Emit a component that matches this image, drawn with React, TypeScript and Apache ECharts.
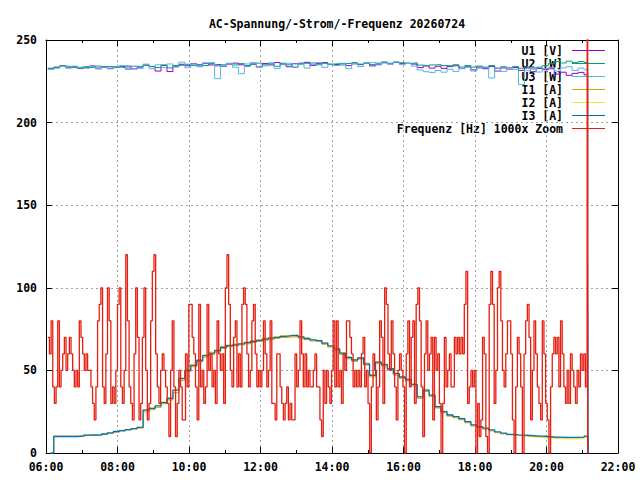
import React, { useEffect, useRef } from "react";
import * as echarts from "echarts";

// ---------- data ----------
const TITLE = "AC-Spannung/-Strom/-Frequenz 20260724";
const SERIES_NAMES = ["U1 [V]", "U2 [W]", "U3 [W]", "I1 [A]", "I2 [A]", "I3 [A]", "Frequenz [Hz] 1000x Zoom"];
const SERIES_COLORS = ["#9400d3", "#009e73", "#56b4e9", "#e69f00", "#f0e442", "#0072b2", "#e51e10"];
const SERIES_WIDTHS = [1, 1, 1, 1, 1, 1.3, 1.3];
const X_TICKS = ["06:00", "08:00", "10:00", "12:00", "14:00", "16:00", "18:00", "20:00", "22:00"];
const Y_TICKS = [0, 50, 100, 150, 200, 250];

const END_TIME = "21:09";

// voltages, every 10 minutes from 06:03
const U_START = "06:03";
const U_STEP_MIN = 10;
const U_DROP = 117;
const U1 = [
  232.6, 233.4, 234.4, 233.2, 233.8, 232.7,
  233.5, 234.3, 233.0, 233.9, 232.9, 233.8,
  233.4, 234.2, 232.5, 233.6, 234.9, 233.9,
  231.2, 234.6, 230.9, 234.1, 235.3, 234.4,
  235.6, 234.3, 235.9, 234.9, 235.2, 234.1,
  235.4, 236.0, 235.0, 234.2, 235.5, 233.6,
  235.8, 234.9, 236.4, 235.3, 233.8, 235.6,
  235.9, 236.5, 234.6, 235.7, 236.3, 235.1,
  235.2, 235.8, 234.5, 235.6, 235.1, 236.1,
  234.3, 235.3, 236.2, 235.5, 236.4, 235.7,
  236.0, 235.4, 233.3, 234.3, 233.0, 234.1,
  232.8, 233.9, 234.4, 232.7, 233.8, 231.9,
  233.6, 232.6, 233.9, 231.2, 233.1, 232.4,
  233.3, 231.6, 233.0, 230.8, 232.8, 232.0,
  232.6, 229.4, 230.5, 228.6, 229.8, 230.4, 228.9,
];
const U2 = [
  232.9, 233.6, 234.3, 233.9, 233.3, 233.7,
  233.9, 233.4, 234.2, 233.4, 233.9, 233.3,
  233.9, 233.0, 234.1, 233.8, 234.7, 234.0,
  233.3, 234.9, 233.1, 234.6, 234.8, 235.3,
  234.5, 235.2, 234.6, 235.7, 234.3, 235.0,
  235.8, 234.9, 235.7, 234.5, 235.3, 236.0,
  235.0, 235.6, 234.1, 235.9, 235.0, 233.5,
  235.4, 235.9, 236.2, 235.0, 235.9, 235.4,
  235.7, 234.9, 235.8, 236.3, 235.4, 235.9,
  235.1, 236.0, 236.6, 235.9, 236.7, 236.2,
  235.8, 236.2, 234.8, 234.4, 234.9, 235.1,
  234.5, 234.3, 235.0, 233.6, 234.5, 233.6,
  234.2, 233.4, 234.5, 232.8, 233.8, 233.3,
  233.9, 232.9, 233.7, 232.5, 233.5, 234.4,
  235.8, 236.9, 236.1, 237.2, 236.3, 237.0, 236.4,
];
const U3 = [
  232.2, 232.9, 234.1, 233.0, 234.2, 233.1,
  232.7, 233.9, 232.4, 233.7, 232.5, 233.8,
  234.6, 232.1, 234.0, 232.8, 235.4, 232.6,
  235.0, 233.3, 235.5, 233.6, 236.6, 233.2,
  235.3, 233.8, 236.2, 236.4, 226.6, 234.4,
  235.9, 233.5, 229.6, 235.5, 236.3, 233.8,
  234.3, 236.2, 232.8, 235.0, 235.9, 233.6,
  236.1, 233.0, 235.1, 236.3, 233.4, 235.4,
  234.6, 235.9, 232.6, 235.6, 233.9, 236.1,
  236.4, 234.9, 236.8, 235.4, 236.6, 235.1,
  235.8, 234.2, 231.9, 230.8, 230.3, 231.6,
  230.5, 232.3, 231.0, 232.7, 233.5, 231.2,
  232.9, 233.6, 227.0, 233.1, 230.9, 233.4,
  232.2, 223.0, 231.4, 233.3, 230.6, 232.7,
  233.4, 231.2, 233.1, 233.8, 231.5, 233.0, 232.0,
];

// currents, every 10 minutes from 06:13 (zero before)
const I_ZERO_TIME = "06:08";
const I_START = "06:13";
const I_STEP_MIN = 10;
const I1 = [
  10.2, 10.2, 10.2, 10.1, 10.2, 10.5, 10.7, 10.6, 11.2, 11.9,
  12.6, 13.3, 13.9, 14.5, 15.1, 24.8, 26.2, 27.6, 29.8, 32.1,
  36.5, 43.8, 49.1, 52.2, 55.1, 58.0, 59.6, 61.1, 63.2, 64.3,
  64.9, 65.4, 66.1, 66.9, 67.5, 68.3, 68.8, 69.4, 69.9, 70.2,
  70.4, 69.5, 68.6, 67.8, 67.4, 65.8, 64.1, 62.2, 59.6, 57.0,
  55.4, 56.8, 53.2, 46.0, 54.1, 52.6, 50.2, 47.1, 45.2, 43.6,
  40.6, 33.1, 37.2, 34.1, 27.2, 24.3, 22.3, 21.3, 20.1, 18.3,
  16.3, 15.4, 14.4, 13.4, 12.3, 11.6, 11.0, 10.6, 10.4, 10.2,
  10.0, 9.8, 9.6, 9.4, 9.3, 9.2, 9.2, 9.1, 9.3, 9.8,
];
const I2 = [
  10.0, 10.0, 10.1, 10.1, 10.4, 11.0, 10.9, 10.6, 11.4, 12.1,
  13.0, 13.7, 14.3, 14.9, 15.6, 26.3, 27.3, 28.9, 31.0, 33.6,
  38.7, 45.6, 50.7, 53.8, 56.7, 59.6, 61.2, 62.7, 64.7, 65.6,
  66.1, 66.6, 67.4, 68.1, 68.8, 69.6, 70.1, 70.6, 71.1, 71.5,
  71.6, 70.6, 69.6, 68.8, 68.3, 66.8, 65.1, 63.3, 60.9, 58.2,
  56.7, 57.9, 54.4, 47.5, 55.4, 53.9, 51.3, 48.4, 46.3, 44.8,
  41.8, 34.4, 38.3, 35.3, 28.3, 25.3, 23.2, 22.2, 21.0, 19.2,
  17.1, 16.0, 14.9, 13.8, 12.5, 11.8, 11.1, 10.7, 10.3, 9.9,
  9.6, 9.3, 9.0, 8.8, 8.7, 8.6, 8.6, 8.5, 8.7, 9.5,
];
const I3 = [
  10.0, 10.0, 10.0, 10.0, 10.3, 10.8, 11.0, 10.8, 11.5, 12.2,
  13.0, 13.6, 14.2, 14.8, 15.5, 26.0, 27.0, 28.5, 30.5, 33.0,
  38.0, 45.0, 50.0, 53.0, 56.0, 59.0, 60.5, 62.0, 64.0, 65.0,
  65.5, 66.0, 66.8, 67.5, 68.2, 69.0, 69.5, 70.0, 70.6, 71.0,
  71.2, 70.3, 69.3, 68.5, 68.0, 66.5, 64.8, 63.0, 60.5, 57.8,
  56.3, 57.5, 54.0, 47.0, 55.0, 53.5, 51.0, 48.0, 46.0, 44.5,
  41.5, 34.0, 38.0, 35.0, 28.0, 25.0, 23.0, 22.0, 20.8, 19.0,
  17.0, 16.0, 15.0, 14.0, 12.8, 12.0, 11.3, 11.0, 10.8, 10.6,
  10.4, 10.2, 10.0, 9.7, 9.6, 9.5, 9.5, 9.4, 9.6, 10.2,
];

// frequency deviation (1000x zoom), sampled regularly from 06:03
const FREQ_START = "06:03";
const FREQ_STEP_MIN = 2.785;
const FREQ_END_VALUES = [999, -999];
const FREQ = [
  70, 60, 80, 40, 30, 40, 80, 40, 50, 60, 70, 50, 60, 70, 60, 50, 40, 50, 40, 80,
  70, 60, 50, 60, 50, 50, 40, 30, 20, 40, 80, 90, 100, 40, 30, 60, 100, 80, 30, 40,
  30, 50, 90, 100, 40, 30, 50, 120, 80, 40, 30, 20, 60, 100, 70, 20, 30, 70, 100, 50,
  20, 30, 80, 110, 120, 60, 40, 30, 50, 60, 50, 40, 30, 10, 50, 80, 40, 10, 30, 50,
  40, 20,
  20, 60, 40, 90, 90, 70, 60, 40, 20, 90, 40, 50, 30, 40, 90, 50, 60, 40, 50, 30,
  80, 60, 50, 60, 30, 100, 120, 90, 50, 40, 70, 80, 40, 60, 40, 90, 100, 90, 60, 40,
  50, 80, 90, 60, 40, 50, 40, 50, 80, 60, 40, 50, 80, 30, 30, 20, 60, 60, 40, 30,
  20, 30, 40, 20, 30, 20, 20, 60, 40, 50, 80, 60, 40, 60, 40, 50, 40, 40, 50, 60,
  40,
  40, 20, 10, 50, 30, 50, 40, 30, 50, 80, 40, 80, 40, 50, 30, 60, 50, 80, 80, 70,
  60, 40, 50, 40, 50, 40, 60, 70, 40, 50, 30, 0, 40, 60, 50, 20, 40, 80, 70, 30,
  100, 90, 60, 50, 80, 60, 40, 20, 50, 60, 50, 40, 0, 60, 80, 40, 70, 80, 30, 90,
  100, 80, 40, 10, 60, 80, 50, 60, 70, 20, 70, 50, 60, 30, 0, 30, 70, 40, 50, 60,
  40,
  40, 70, 60, 70, 60, 70, 60, 90, 110, 30, 40, 50, 40, 50, 0, 30, 10, 20, 70, 60,
  10, 0, 90, 110, 90, 30, 50, 100, 110, 80, 50, 40, 60, 80, 80, 60, 20, 0, 40, 70,
  60, 40, 0, 60, 80, 90, 70, 20, 50, 80, 60, 40, 30, 20, 80, 60, 30, 20, 0, 40,
  60, 70, 60, 70, 40, 80, 60, 40, 30, 50, 30, 60, 50, 40, 30, 50, 40, 60, 50, 60,
  40, 50,
];

// ---------- helpers ----------
const toMin = (s: string) => {
  const [h, m] = s.split(":").map(Number);
  return h * 60 + m;
};
const fmt = (v: number) =>
  `${String(Math.floor(v / 60)).padStart(2, "0")}:${String(Math.round(v % 60)).padStart(2, "0")}`;

const FONT = "DejaVu Sans Mono";

export default function App() {
  const ref = useRef<HTMLDivElement>(null);
  useEffect(() => {
    if (!ref.current) return;
    const chart = echarts.init(ref.current, undefined, { renderer: "svg" });
    const end = toMin(END_TIME);

    const uData = (arr: number[]) =>
      arr
        .map((v, i) => [toMin(U_START) + i * U_STEP_MIN, v])
        .concat([[end, U_DROP], [end + 1, 0]]);
    const iData = (arr: number[]) =>
      [[toMin(I_ZERO_TIME), 0]]
        .concat(arr.map((v, i) => [toMin(I_START) + i * I_STEP_MIN, v]))
        .concat([[end + 1, 0]]);
    const fData = FREQ.map((v, i) => [toMin(FREQ_START) + i * FREQ_STEP_MIN, v]).concat([
      [end, FREQ_END_VALUES[0]],
      [end + 0.3, FREQ_END_VALUES[1]],
    ]);

    const allData = [uData(U1), uData(U2), uData(U3), iData(I1), iData(I2), iData(I3), fData];

    const xMin = toMin(X_TICKS[0]);
    const xMax = toMin(X_TICKS[X_TICKS.length - 1]);
    const yMin = Y_TICKS[0];
    const yMax = Y_TICKS[Y_TICKS.length - 1];

    const labelStyle = { fontFamily: FONT, fontSize: 11.5, fontWeight: "bold" as const, color: "#000" };
    const axisLine = { show: true, onZero: false, lineStyle: { color: "#000", width: 1 } };
    const splitLine = { show: true, lineStyle: { color: "#a0a0a0", type: [2, 3] as any, width: 1 } };

    const legendRowY = 50.5;
    const legendRowH = 13;
    const graphics: any[] = [];
    SERIES_NAMES.forEach((name, i) => {
      const y = legendRowY + i * legendRowH;
      graphics.push({
        type: "text",
        z: 0,
        x: 563,
        y,
        style: {
          text: name,
          fill: "#000",
          font: `bold 11.5px "${FONT}"`,
          textAlign: "right",
          textVerticalAlign: "middle",
        },
      });
      graphics.push({
        type: "line",
        z: 0,
        shape: { x1: 572, y1: y, x2: 605, y2: y },
        style: { stroke: SERIES_COLORS[i], lineWidth: 1 },
      });
    });

    chart.setOption({
      animation: false,
      backgroundColor: "#fff",
      title: {
        text: TITLE,
        left: 332,
        textAlign: "center",
        top: 13,
        textStyle: { ...labelStyle },
      },
      grid: { left: 46, right: 22, top: 40, bottom: 27, containLabel: false },
      xAxis: [
        {
          type: "value",
          position: "bottom",
          min: xMin,
          max: xMax,
          interval: 120,
          axisLine,
          axisTick: { show: true, inside: true, length: 6, lineStyle: { color: "#000" } },
          minorTick: { show: true, splitNumber: 2, length: 3, lineStyle: { color: "#000" } },
          axisLabel: { ...labelStyle, margin: 8, formatter: (v: number) => fmt(v) },
          splitLine,
        },
        {
          type: "value",
          position: "top",
          min: xMin,
          max: xMax,
          interval: 120,
          axisLine,
          axisTick: { show: true, inside: true, length: 6, lineStyle: { color: "#000" } },
          minorTick: { show: true, splitNumber: 2, length: 3, lineStyle: { color: "#000" } },
          axisLabel: { show: false },
          splitLine: { show: false },
        },
      ],
      yAxis: [
        {
          type: "value",
          position: "left",
          min: yMin,
          max: yMax,
          interval: 50,
          axisLine,
          axisTick: { show: true, inside: true, length: 6, lineStyle: { color: "#000" } },
          axisLabel: { ...labelStyle, margin: 9 },
          splitLine,
        },
        {
          type: "value",
          position: "right",
          min: yMin,
          max: yMax,
          interval: 50,
          axisLine,
          axisTick: { show: true, inside: true, length: 6, lineStyle: { color: "#000" } },
          axisLabel: { show: false },
          splitLine: { show: false },
        },
      ],
      graphic: graphics,
      series: SERIES_NAMES.map((name, i) => ({
        name,
        type: "line",
        xAxisIndex: 0,
        yAxisIndex: 0,
        step: "end",
        showSymbol: false,
        symbol: "none",
        clip: true,
        z: 3,
        lineStyle: { color: SERIES_COLORS[i], width: SERIES_WIDTHS[i] },
        itemStyle: { color: SERIES_COLORS[i] },
        data: allData[i],
      })),
    });
    return () => chart.dispose();
  }, []);

  return (
    <div
      ref={ref}
      style={{ position: "fixed", left: 0, top: 0, width: 640, height: 480, background: "#fff" }}
    />
  );
}
